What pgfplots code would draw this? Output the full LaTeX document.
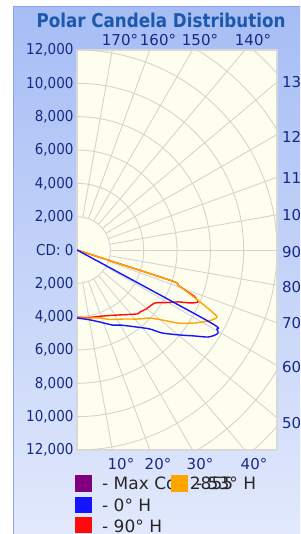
\documentclass[border=0pt]{standalone}
\usepackage{pgfplots}
\usepackage{pgfplotstable}
\pgfplotsset{compat=1.18}
\usepackage{fontspec}
\newfontfamily\tah{DejaVu Sans}[FakeStretch=0.9]
\newfontfamily\tahb{DejaVu Sans Bold}[FakeStretch=0.88]
\newfontfamily\dv{DejaVu Sans}
\definecolor{panelTop}{RGB}{166,189,245}
\definecolor{panelBot}{RGB}{226,233,252}
\definecolor{panelBorder}{RGB}{140,165,232}
\definecolor{titleblue}{RGB}{28,88,172}
\definecolor{tickblue}{RGB}{22,42,132}
\definecolor{ivory}{RGB}{254,254,238}
\definecolor{gridc}{RGB}{212,212,212}
\definecolor{borderc}{RGB}{216,216,216}
\definecolor{cblue}{RGB}{20,20,255}
\definecolor{cred}{RGB}{255,10,10}
\definecolor{corange}{RGB}{255,165,0}
\definecolor{cpurple}{RGB}{128,0,128}

% angle from nadir (deg), candela
\pgfplotstableread{
ang cd
0 4080
10 4250
17.7 4540
25.6 5000
30 5200
37.9 5860
42.7 6450
45.7 7130
50 7920
53.9 8760
56.4 9440
58.3 9720
59.5 9820
60.5 9650
61.5 9000
62 0
}\blueH
\pgfplotstableread{
ang cd
0 4080
10 4150
18.7 4300
25 4600
34.8 5040
41 5490
47 5990
50.5 6600
54.1 7480
58.3 8330
61.5 8940
63.5 9250
64.6 9300
65.7 8750
67.9 7640
70.9 6400
72 5900
73 0
}\orangeH
\pgfplotstableread{
ang cd
0 4040
10 4110
21.5 4256
32 4600
43.2 5263
45.5 5304
49.4 5450
55.8 5658
59.7 6252
62.8 6816
64.9 7488
66.7 7900
68.3 7620
69.5 7000
70.9 6400
72 5900
73 0
}\redH

\begin{document}
\begin{tikzpicture}[x=1pt,y=1pt]
\path[use as bounding box] (0,0) rectangle (300,534);
\fill[white] (0,0) rectangle (300,534);
\shade[top color=panelTop, bottom color=panelBot] (13,0) rectangle (300,527);
\draw[panelBorder, line width=1pt] (13,0) -- (13,527) -- (300,527);

\node[font=\tahb\fontsize{19}{21}\selectfont, text=titleblue] at (161,514) {Polar Candela Distribution};

\begin{axis}[
  at={(77pt,84pt)}, anchor=south west,
  scale only axis, width=200pt, height=400pt,
  xmin=0, xmax=12000, ymin=-12000, ymax=12000,
  xtick=\empty,
  ytick={-12000,-10000,...,12000},
  scaled y ticks=false,
  yticklabels={{12,000},{10,000},{8,000},{6,000},{4,000},{2,000},{CD: 0},{2,000},{4,000},{6,000},{8,000},{10,000},{12,000}},
  yticklabel style={font=\tah\fontsize{15}{17}\selectfont, text=tickblue},
  major tick length=0pt,
  axis background/.style={fill=ivory},
  axis line style={draw=borderc, line width=1.5pt},
  clip mode=global,
]
% grid: rings every 2,000 cd (33.333pt), spokes every 10 degrees
\pgfplotsinvokeforeach{1,...,9}{
  \draw[gridc, line width=0.9pt] (axis cs:0,0) circle[radius=#1*33.3333pt];
}
\pgfplotsinvokeforeach{10,20,...,170}{
  \draw[gridc, line width=0.9pt] (axis cs:0,0) ++(#1-90:33.3333pt) -- ++(#1-90:320pt);
}
\addplot[cred, line width=1.4pt, smooth, tension=0.4] table[x expr={\thisrow{cd}*sin(\thisrow{ang})}, y expr={-\thisrow{cd}*cos(\thisrow{ang})}] {\redH};
\addplot[corange, line width=1.4pt, smooth, tension=0.4] table[x expr={\thisrow{cd}*sin(\thisrow{ang})}, y expr={-\thisrow{cd}*cos(\thisrow{ang})}] {\orangeH};
\addplot[cblue, line width=1.4pt, smooth, tension=0.4] table[x expr={\thisrow{cd}*sin(\thisrow{ang})}, y expr={-\thisrow{cd}*cos(\thisrow{ang})}] {\blueH};
\end{axis}

% angle labels
\begin{scope}[every node/.style={font=\dv\fontsize{15}{17}\selectfont, text=tickblue, inner sep=0pt}]
\node[anchor=base] at (120,488) {170°};
\node[anchor=base] at (158,488) {160°};
\node[anchor=base] at (200,488) {150°};
\node[anchor=base] at (253,488) {140°};
\node[anchor=base] at (121,64) {10°};
\node[anchor=base] at (158,64) {20°};
\node[anchor=base] at (200,64) {30°};
\node[anchor=base] at (254,64) {40°};
\node[anchor=west] at (282,452) {130°};
\node[anchor=west] at (282,397) {120°};
\node[anchor=west] at (282,356) {110°};
\node[anchor=west] at (282,319) {100°};
\node[anchor=west] at (282,282) {90°};
\node[anchor=west] at (282,247) {80°};
\node[anchor=west] at (282,211) {70°};
\node[anchor=west] at (282,167) {60°};
\node[anchor=west] at (282,111) {50°};
\end{scope}

% legend
\begin{scope}[every node/.style={font=\dv\fontsize{17}{19}\selectfont, text=black!85, inner sep=0pt, anchor=west}]
\fill[cpurple] (75,42) rectangle (92,59);
\node at (102,50.5) {- Max Cd: 2855};
\fill[corange] (171,42) rectangle (188,59);
\node at (196,50.5) {- 53° H};
\fill[cblue] (75,21) rectangle (92,37);
\node at (102,29) {- 0° H};
\fill[cred] (75,1) rectangle (92,17);
\node at (102,8) {- 90° H};
\end{scope}
\end{tikzpicture}
\end{document}
